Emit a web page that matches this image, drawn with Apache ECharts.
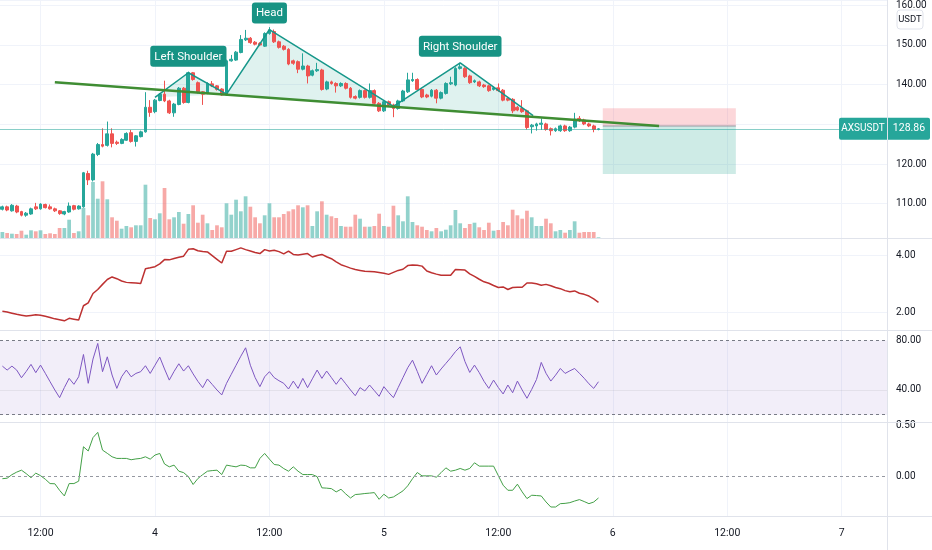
<!DOCTYPE html>
<html><head><meta charset="utf-8">
<script src="https://cdn.jsdelivr.net/npm/echarts@6/dist/echarts.min.js"></script>
<style>html,body{margin:0;padding:0;background:#fff}#c{width:932px;height:550px}</style>
</head><body><div id="c"></div>
<script>
// ---------- DATA ----------
const symbolName = 'AXSUSDT';
const quoteCurrency = 'USDT';
const startTimeUTC = Date.UTC(2021, 10, 3, 8, 0);
const barMinutes = 30;
const categoryCount = 186;
const majorTimes = ['00:00', '12:00'];

const opens = [108.6,109.2,108.2,109.4,108.0,107.1,107.4,109.2,108.7,109.8,109.2,108.7,108.2,107.4,107.9,109.5,108.7,109.2,117.6,116.0,
122.4,124.9,124.7,127.6,125.5,125.2,126.0,127.9,125.7,126.9,128.1,134.3,133.2,136.0,137.6,135.9,132.9,135.0,139.1,135.5,
143.0,140.5,138.2,137.8,140.2,139.7,138.9,137.4,146.0,146.2,148.1,151.3,151.7,150.7,150.4,149.7,152.9,153.4,150.8,149.7,
148.9,146.0,145.8,143.9,144.7,142.4,143.5,143.7,138.9,140.7,140.3,139.7,140.3,139.1,137.0,136.8,138.5,136.8,138.5,135.3,
133.4,135.7,134.9,134.0,135.9,138.2,141.0,141.3,138.8,137.4,137.1,138.6,136.6,137.8,140.2,139.9,144.1,144.1,142.2,140.7,
140.7,139.9,139.7,138.8,139.2,138.6,136.5,136.3,134.3,134.0,133.4,129.4,129.6,130.0,130.1,128.9,128.4,128.4,129.6,128.4,
129.3,131.5,131.1,130.1,129.6,128.7];
const closes = [109.2,108.4,109.6,107.9,107.1,107.6,108.7,108.7,109.9,109.0,108.7,108.2,107.5,108.0,109.4,108.6,109.4,117.8,116.0,122.5,
124.9,124.5,127.6,125.2,125.2,126.2,127.7,125.7,127.1,128.1,134.3,133.0,136.1,137.6,135.9,132.9,135.1,139.1,135.5,143.0,
141.3,138.2,137.6,140.3,139.7,138.8,137.4,146.0,146.4,148.2,151.4,151.7,150.6,150.2,150.0,152.9,153.8,150.8,149.4,148.9,
145.2,145.4,143.9,144.7,142.2,143.5,143.8,138.8,140.7,140.3,139.7,140.3,139.1,136.8,136.6,138.5,136.8,138.5,135.3,133.4,
135.7,134.9,134.0,135.9,138.4,141.2,141.3,138.8,136.9,136.9,138.6,136.6,138.0,140.3,140.5,144.1,144.5,142.0,140.5,141.0,
139.7,139.5,138.5,139.2,138.5,136.1,136.1,133.4,133.6,133.2,129.2,129.8,130.1,130.3,128.7,128.4,128.9,129.6,128.4,129.3,
131.3,130.9,130.1,129.6,128.7,128.86];
const lows = [108.3,108.1,108.0,107.6,106.8,106.7,107.2,108.4,108.5,108.8,108.5,107.9,107.2,107.1,107.7,108.3,108.5,109.0,114.7,115.6,
122.0,124.2,124.4,124.2,124.8,125.0,125.8,125.4,124.4,126.7,127.9,131.9,132.8,135.8,135.6,132.6,131.9,134.8,135.2,135.3,
141.0,137.8,134.9,137.6,139.4,138.5,137.2,137.2,145.8,146.0,147.9,151.0,150.3,149.9,149.7,149.5,152.6,150.5,149.1,148.6,
144.9,145.0,142.9,143.6,140.3,142.1,143.2,138.5,138.6,140.0,138.0,139.4,138.8,136.5,136.3,136.5,136.5,136.5,135.0,133.1,
133.1,134.6,131.8,133.7,135.6,137.9,140.7,138.5,136.6,136.6,136.8,135.3,136.3,137.5,139.9,139.6,143.8,141.7,140.2,140.4,
139.4,139.2,138.2,138.5,138.2,135.8,135.8,132.8,133.3,132.9,128.7,127.7,128.4,128.6,128.4,127.2,128.1,128.1,128.1,128.1,
129.0,130.6,129.8,129.3,128.0,128.5];
const highs = [109.5,109.5,109.9,109.7,108.2,107.9,109.0,110.2,110.1,110.0,109.8,109.0,108.4,108.2,110.3,109.7,109.6,118.0,118.3,122.8,
125.3,129.0,130.7,129.0,125.9,126.5,128.0,128.6,127.3,128.4,138.1,136.1,136.4,137.9,141.0,136.2,135.4,139.4,139.4,143.3,
143.2,140.8,138.4,140.6,140.9,139.9,139.1,146.3,147.5,148.5,152.5,153.8,152.0,151.0,150.7,153.2,154.5,153.9,151.1,150.0,
149.2,146.3,146.1,147.9,145.0,143.8,145.5,144.0,141.0,141.0,140.6,140.6,140.6,139.4,137.3,138.8,138.8,140.3,138.8,135.6,
136.0,136.0,135.2,136.2,138.7,143.0,143.0,141.6,139.1,137.7,138.9,138.9,138.3,140.6,142.0,144.4,145.5,144.4,142.5,141.3,
141.0,140.2,140.0,139.5,140.3,138.9,136.8,136.6,134.6,136.1,133.7,130.1,130.4,131.5,130.4,129.2,129.2,129.9,129.9,129.6,
132.9,132.1,131.4,130.4,129.9,129.0];
const volumesK = [6,5,4.3,4,7.3,3.3,7.7,6.7,7.7,4,4.7,4,10,10,18.3,5,6.7,30,22.7,56,
39.3,56.7,38.7,20.7,17.3,9.3,12,10.7,12.7,12.7,53.3,20,18.7,24.7,50,18.7,20.7,26,14.3,24,
32.7,15.3,23.3,14.7,8,12.7,10.7,34.7,23.3,38.3,26.7,41.7,31.3,20.7,14.7,22.7,34.7,20.7,20.7,24,
26.7,28.7,32.7,30.7,32.7,12,26.7,36.7,23.3,21.7,20,12,11.3,11.3,23.3,19.3,11.3,11.3,12,24.3,
12,11.3,32.3,22.7,16.7,41.7,16,12.7,11.3,8,6.7,10,6.7,8.3,12.7,28,14.7,10,14,15.3,
10.7,8,15.3,7.3,8,16,12.7,28.3,22.7,19.3,27.3,20.7,12,12,19.3,14.7,6.7,8,5.3,8,
16.7,5.3,6,6,6,0.7];
const atr = [2.04,2.01,1.97,1.93,1.90,1.87,1.89,1.91,1.90,1.86,1.82,1.77,1.74,1.70,1.79,1.76,1.73,2.23,2.33,2.66,
2.80,2.98,3.15,3.24,3.18,3.10,3.05,3.04,3.03,3.01,3.53,3.56,3.60,3.70,3.85,3.84,3.89,3.93,3.97,4.21,
4.23,4.16,4.13,4.12,3.99,3.86,3.73,4.14,4.14,4.20,4.26,4.20,4.15,4.10,4.06,4.20,4.15,4.18,4.13,4.05,
4.15,4.03,4.01,4.04,4.06,3.94,3.99,4.03,3.95,3.88,3.77,3.67,3.61,3.55,3.50,3.47,3.44,3.43,3.42,3.40,
3.37,3.33,3.40,3.47,3.51,3.64,3.66,3.65,3.62,3.45,3.39,3.34,3.30,3.30,3.30,3.50,3.49,3.48,3.35,3.26,
3.16,3.07,3.02,2.94,2.87,2.89,2.80,2.87,2.88,2.88,3.03,3.03,3.00,2.95,2.98,2.93,2.87,2.83,2.76,2.72,
2.75,2.67,2.63,2.57,2.47,2.35];
const rsi = [59.3,56.1,59.3,56.1,49.9,55,60.7,54,60.1,53.5,46.7,40,33.8,42,49.4,44.6,50.7,68.7,45.4,65,
77.6,54.8,66.8,52.1,41.3,50.7,56.1,50.7,53.4,54.8,59.6,53.4,60,66.6,57,48,55,61.2,55.3,59.6,
53,47,41.9,48.9,44.5,40,36,45.4,52.7,60,67.3,74.1,60,50,42.7,50.7,54.8,50,47.5,45.4,
40.8,47.2,41.3,49.4,41.9,49,56.1,49.4,55.3,50,44.6,49.9,45,40,35.4,41.9,39.2,44,39.5,34.9,
42.7,38,33.8,42,50,58,64.1,55,45.4,52.5,59.6,52.1,57,61.5,66,71,74.9,63,54.2,60.1,
54,47,41.3,48,42,36.8,44,37.8,47.2,40,33.3,40.5,48.5,62.3,53.5,47.2,52,57.4,53.4,55.5,
57.4,53.5,49.5,45,41.3,46.7];
const osc = [-0.02,-0.015,0.02,0.045,0.064,0.03,-0.01,0.035,0.01,-0.025,-0.068,-0.07,-0.135,-0.19,-0.068,-0.068,-0.044,0.295,0.253,0.385,
0.437,0.262,0.23,0.196,0.18,0.18,0.18,0.167,0.175,0.18,0.196,0.173,0.213,0.229,0.125,0.097,0.114,0.054,0.04,0,
-0.077,-0.018,0.02,0.054,0.06,0.064,0.021,0.114,0.105,0.097,0.114,0.11,0.087,0.087,0.18,0.229,0.173,0.12,0.114,0.08,
0.054,0.097,0.054,0.021,0.021,0.021,0,-0.11,-0.113,-0.118,-0.15,-0.124,-0.17,-0.21,-0.176,-0.172,-0.166,-0.162,-0.157,-0.223,
-0.173,-0.21,-0.2,-0.17,-0.14,-0.09,-0.02,0.041,0.008,0.008,0.008,-0.005,0.04,0.087,0.054,0.064,0.081,0.064,0.081,0.137,
0.104,0.104,0.104,0.104,0.01,-0.084,-0.134,-0.134,-0.074,-0.15,-0.216,-0.183,-0.186,-0.19,-0.249,-0.299,-0.299,-0.266,-0.263,-0.256,
-0.24,-0.226,-0.245,-0.266,-0.25,-0.21];

const priceTickLabels = ['110.00','120.00','130.00','140.00','150.00','160.00'];
const atrTickLabels = ['2.00','4.00'];
const rsiTickLabels = ['40.00','80.00'];
const oscTickLabels = ['0.00','0.50'];
const rsiBands = [20, 80];
const rsiMid = 40;
const oscZero = 0;

// head & shoulders pattern points (bar index, price)
const patternX = [32, 39, 47, 56, 82, 96, 111.3];
const patternY = [136.8, 143.0, 137.6, 153.9, 134.5, 145.5, 132.2];
const patternNames = ['', 'Left Shoulder', '', 'Head', '', 'Right Shoulder', ''];
const patternTriangles = [[0,1,2],[2,3,4],[4,5,6]];
const necklineX = [11.0, 137.7];
const necklineY = [140.6, 129.58];
// short position tool
const positionX = [125.9, 153.8];
const stopPrice = 134.04, entryPrice = 129.58, targetPrice = 117.48;

// ---------- CHART ----------
const FONT = 'Roboto, Arial, sans-serif';
const TEXT = '#131722';
const UP = '#26a69a', DOWN = '#ef5350';
const UP_VOL = 'rgba(38,166,154,0.5)', DOWN_VOL = 'rgba(239,83,80,0.5)';
const SEP = '#e0e3eb', GRIDC = '#f0f3fa';
const W = 932, H = 550, AXIS_W = 45;
const PANE_TOPS = [0, 238, 330, 422, 516];

const categories = [];
for (let k = 0; k < categoryCount; k++) {
  const d = new Date(startTimeUTC + k * barMinutes * 60000);
  categories.push(d.toISOString().slice(0, 16).replace('T', ' '));
}
const isMajor = (idx, val) => majorTimes.includes(String(val).slice(11));
const fmtTime = v => v.slice(11) === '00:00' ? String(Number(v.slice(8, 10))) : v.slice(11);
const lastClose = closes[closes.length - 1];

function catAxis(gi, showLabels, showSplit) {
  return {
    type: 'category', gridIndex: gi, data: categories, boundaryGap: true,
    axisLine: {show: false}, axisTick: {show: false},
    axisLabel: {show: showLabels, interval: isMajor, formatter: fmtTime, color: TEXT, fontSize: 10.5, fontFamily: FONT, margin: 12},
    splitLine: {show: showSplit, interval: isMajor, alignWithLabel: true, lineStyle: {color: GRIDC, width: 1}}
  };
}
function valAxis(gi, min, max, splitNumber, labels, showSplit) {
  return {
    type: 'value', gridIndex: gi, position: 'right', min, max, splitNumber, scale: true,
    axisLine: {show: false}, axisTick: {show: false},
    axisLabel: {color: TEXT, fontSize: 10, fontFamily: FONT, margin: 9,
      formatter: v => { const s = Number(v).toFixed(2); return labels.includes(s) ? s : ''; }},
    splitLine: {show: showSplit, lineStyle: {color: GRIDC, width: 1}}
  };
}
const gridBase = {left: 0, right: AXIS_W, containLabel: false, outerBoundsMode: 'none'};

const chart = echarts.init(document.getElementById('c'));
chart.setOption({
  animation: false,
  backgroundColor: '#ffffff',
  textStyle: {fontFamily: FONT},
  grid: [
    Object.assign({top: PANE_TOPS[0], height: PANE_TOPS[1] - PANE_TOPS[0]}, gridBase),
    Object.assign({top: 138, height: 100}, gridBase),
    Object.assign({top: PANE_TOPS[1], height: PANE_TOPS[2] - PANE_TOPS[1]}, gridBase),
    Object.assign({top: PANE_TOPS[2], height: PANE_TOPS[3] - PANE_TOPS[2]}, gridBase),
    Object.assign({top: PANE_TOPS[3], height: PANE_TOPS[4] - PANE_TOPS[3]}, gridBase)
  ],
  xAxis: [
    catAxis(0, false, true),
    Object.assign(catAxis(1, false, false), {show: false}),
    catAxis(2, false, true),
    catAxis(3, false, true),
    catAxis(4, true, true),
    {type: 'value', gridIndex: 0, min: -0.5, max: categoryCount - 0.5, show: false}
  ],
  yAxis: [
    valAxis(0, 101.35, 161.34, 6, priceTickLabels, true),
    {type: 'value', gridIndex: 1, min: 0, max: 100, show: false},
    valAxis(2, 1.379, 4.607, 2, atrTickLabels, true),
    valAxis(3, 14.14, 88.48, 4, rsiTickLabels, false),
    valAxis(4, -0.3876, 0.539, 2, oscTickLabels, false)
  ],
  series: [
    {
      type: 'bar', name: 'Volume', xAxisIndex: 1, yAxisIndex: 1, z: 1, barWidth: '78%',
      data: volumesK.map((v, i) => ({value: v, itemStyle: {color: closes[i] >= opens[i] ? UP_VOL : DOWN_VOL}}))
    },
    {
      type: 'custom', name: 'Position', xAxisIndex: 5, yAxisIndex: 0, z: 1,
      data: [[positionX[0], entryPrice]],
      renderItem: (params, api) => {
        const a = api.coord([positionX[0], stopPrice]);
        const b = api.coord([positionX[1], entryPrice]);
        const c = api.coord([positionX[1], targetPrice]);
        return {type: 'group', children: [
          {type: 'rect', shape: {x: a[0], y: a[1], width: b[0] - a[0], height: b[1] - a[1]}, style: {fill: 'rgba(242,54,69,0.2)'}},
          {type: 'rect', shape: {x: a[0], y: b[1], width: b[0] - a[0], height: c[1] - b[1]}, style: {fill: 'rgba(8,153,129,0.2)'}},
          {type: 'line', shape: {x1: a[0], y1: b[1], x2: b[0], y2: b[1]}, style: {stroke: '#9598a1', lineWidth: 1}}
        ]};
      }
    },
    {
      type: 'custom', name: 'PatternFill', xAxisIndex: 5, yAxisIndex: 0, z: 2,
      data: patternTriangles.map((t, k) => [patternX[t[1]], patternY[t[1]], k]),
      renderItem: (params, api) => {
        const tri = patternTriangles[api.value(2)];
        const pts = tri.map(j => api.coord([patternX[j], patternY[j]]));
        return {type: 'polygon', shape: {points: pts}, style: {fill: 'rgba(8,153,129,0.13)'}};
      }
    },
    {
      type: 'candlestick', name: symbolName, xAxisIndex: 0, yAxisIndex: 0, z: 3, barWidth: '70%',
      data: opens.map((o, i) => [o, closes[i], lows[i], highs[i]]),
      itemStyle: {color: UP, color0: DOWN, borderColor: UP, borderColor0: DOWN, borderWidth: 1},
      markLine: {silent: true, symbol: 'none', label: {show: false},
        lineStyle: {color: 'rgba(38,166,154,0.55)', width: 1, type: 'solid'},
        data: [{yAxis: lastClose, lineStyle: {color: 'rgba(38,166,154,0.55)', width: 1, type: 'solid'}}]}
    },
    {
      type: 'line', name: 'Pattern', xAxisIndex: 5, yAxisIndex: 0, z: 4, symbol: 'none',
      data: patternX.map((x, i) => [x, patternY[i]]),
      lineStyle: {color: '#16978a', width: 1.5}
    },
    {
      type: 'line', name: 'Neckline', xAxisIndex: 5, yAxisIndex: 0, z: 5, symbol: 'none',
      data: necklineX.map((x, i) => [x, necklineY[i]]),
      lineStyle: {color: '#3f8d33', width: 2.5}
    },
    {
      type: 'custom', name: 'PatternLabels', xAxisIndex: 5, yAxisIndex: 0, z: 6,
      data: patternNames.map((n, k) => [patternX[k], patternY[k], k]).filter(d => patternNames[d[2]]),
      renderItem: (params, api) => {
        const p = api.coord([api.value(0), api.value(1)]);
        return {type: 'text', x: p[0], y: p[1] - 6, style: {
          text: patternNames[api.value(2)], fill: '#ffffff', fontSize: 11.5, fontFamily: FONT,
          align: 'center', verticalAlign: 'bottom', backgroundColor: '#179384',
          padding: [5, 4, 4, 4], borderRadius: 3}};
      }
    },
    {
      type: 'line', name: 'ATR', xAxisIndex: 2, yAxisIndex: 2, symbol: 'none', data: atr,
      lineStyle: {color: '#bd3131', width: 1.5}
    },
    {
      type: 'line', name: 'RSI', xAxisIndex: 3, yAxisIndex: 3, symbol: 'none', data: rsi,
      lineStyle: {color: '#7e57c2', width: 1},
      markArea: {silent: true, itemStyle: {color: 'rgba(126,87,194,0.1)'},
        data: [[{yAxis: rsiBands[0]}, {yAxis: rsiBands[1]}]]},
      markLine: {silent: true, symbol: 'none', label: {show: false},
        data: [
          {yAxis: rsiBands[1], lineStyle: {color: '#787b86', type: [3, 3], width: 1}},
          {yAxis: rsiBands[0], lineStyle: {color: '#787b86', type: [3, 3], width: 1}},
          {yAxis: rsiMid, lineStyle: {color: 'rgba(120,123,134,0.12)', type: 'solid', width: 1}}
        ]}
    },
    {
      type: 'line', name: 'Osc', xAxisIndex: 4, yAxisIndex: 4, symbol: 'none', data: osc,
      lineStyle: {color: '#43a047', width: 1},
      markLine: {silent: true, symbol: 'none', label: {show: false},
        data: [{yAxis: oscZero, lineStyle: {color: '#9598a1', type: [3, 3], width: 1}}]}
    }
  ]
});

const plotRight = W - AXIS_W;
const yLast = chart.convertToPixel({yAxisIndex: 0}, lastClose);
const gfx = [];
PANE_TOPS.slice(1).forEach(y => gfx.push({type: 'line', zlevel: 1, z: 100, shape: {x1: 0, y1: y + 0.5, x2: W, y2: y + 0.5}, style: {stroke: SEP, lineWidth: 1}}));
gfx.push({type: 'line', zlevel: 1, z: 100, shape: {x1: plotRight + 0.5, y1: 0, x2: plotRight + 0.5, y2: H}, style: {stroke: SEP, lineWidth: 1}});
gfx.push({type: 'rect', zlevel: 1, z: 101, shape: {x: plotRight + 10, y: 10, width: 26, height: 19, r: 3}, style: {fill: '#ffffff', stroke: SEP, lineWidth: 1}});
gfx.push({type: 'text', zlevel: 1, z: 102, style: {text: quoteCurrency, x: plotRight + 23, y: 19.5, align: 'center', verticalAlign: 'middle', fill: TEXT, fontSize: 9.5, fontFamily: FONT}});
gfx.push({type: 'rect', zlevel: 1, z: 101, shape: {x: plotRight - 48, y: yLast - 11, width: 48, height: 22, r: [2, 0, 0, 2]}, style: {fill: UP}});
gfx.push({type: 'text', zlevel: 1, z: 102, style: {text: symbolName, x: plotRight - 24, y: yLast, align: 'center', verticalAlign: 'middle', fill: '#ffffff', fontSize: 10, fontFamily: FONT}});
gfx.push({type: 'rect', zlevel: 1, z: 101, shape: {x: plotRight + 1, y: yLast - 11, width: 42, height: 22, r: [0, 2, 2, 0]}, style: {fill: UP}});
gfx.push({type: 'text', zlevel: 1, z: 102, style: {text: lastClose.toFixed(2), x: plotRight + 22, y: yLast, align: 'center', verticalAlign: 'middle', fill: '#ffffff', fontSize: 10.5, fontFamily: FONT}});
chart.setOption({graphic: gfx});
</script>
</body></html>
